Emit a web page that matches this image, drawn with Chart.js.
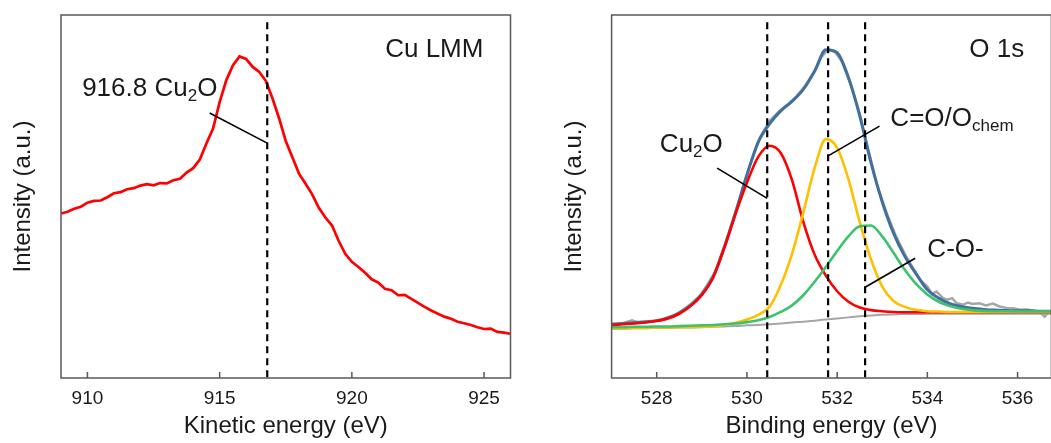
<!DOCTYPE html>
<html>
<head>
<meta charset="utf-8">
<script src="https://cdn.jsdelivr.net/npm/chart.js@4.4.1/dist/chart.umd.min.js"></script>
<style>
  html, body { margin: 0; padding: 0; background: #fff; overflow: hidden; }
  #lmm { position: absolute; left: 0; top: 0; }
  #o1s { position: absolute; left: 545px; top: 0; }
</style>
</head>
<body>
<canvas id="lmm" width="530" height="443"></canvas>
<canvas id="o1s" width="508" height="443"></canvas>
<script>
// Cu LMM Auger spectrum (kinetic energy, eV)
const lmmEnergy = [
  909.00, 909.25, 909.50, 909.75, 910.00, 910.25, 910.50, 910.75, 911.00, 911.25,
  911.50, 911.75, 912.00, 912.25, 912.50, 912.75, 913.00, 913.25, 913.50, 913.75,
  914.00, 914.25, 914.50, 914.75, 915.00, 915.25, 915.50, 915.75, 916.00, 916.25,
  916.50, 916.75, 917.00, 917.25, 917.50, 917.75, 918.00, 918.25, 918.50, 918.75,
  919.00, 919.25, 919.50, 919.75, 920.00, 920.25, 920.50, 920.75, 921.00, 921.25,
  921.50, 921.75, 922.00, 922.25, 922.50, 922.75, 923.00, 923.25, 923.50, 923.75,
  924.00, 924.25, 924.50, 924.75, 925.00, 925.25, 925.50, 925.75, 926.00
];
const lmmCounts = [
  45.3, 45.8, 46.6, 47.2, 48.3, 48.8, 48.9, 49.8, 50.9, 51.2,
  52.0, 52.3, 53.0, 53.4, 53.1, 53.7, 53.6, 54.5, 54.9, 56.6,
  57.8, 60.2, 64.6, 68.7, 76.0, 82.0, 86.1, 88.6, 87.9, 85.7,
  84.3, 81.8, 77.0, 71.5, 65.3, 60.8, 56.3, 53.5, 50.6, 46.9,
  44.2, 42.0, 37.8, 34.2, 32.0, 30.6, 29.0, 27.2, 26.3, 24.6,
  24.2, 22.8, 22.9, 21.8, 20.7, 19.6, 18.6, 17.7, 16.9, 16.3,
  15.5, 15.1, 14.6, 14.0, 13.5, 13.6, 12.7, 12.5, 12.2
];
const lmmTicks = [910, 915, 920, 925];
const lmmPeak = 916.8;

// O 1s fit (binding energy, eV)
const o1sEnergy = [
  527.00, 527.25, 527.50, 527.75, 528.00, 528.25, 528.50, 528.75, 529.00, 529.25,
  529.50, 529.75, 530.00, 530.25, 530.50, 530.75, 531.00, 531.25, 531.50, 531.75,
  532.00, 532.25, 532.50, 532.75, 533.00, 533.25, 533.50, 533.75, 534.00, 534.25,
  534.50, 534.75, 535.00, 535.25, 535.50, 535.75, 536.00, 536.25, 536.50, 536.75
];
const o1sBackground = [
  13.6, 13.6, 13.7, 13.7, 13.8, 13.8, 13.9, 13.9, 14.0, 14.1,
  14.2, 14.3, 14.5, 14.6, 14.8, 15.0, 15.3, 15.5, 15.8, 16.1,
  16.4, 16.7, 17.0, 17.2, 17.4, 17.5, 17.6, 17.6, 17.7, 17.7,
  17.7, 17.7, 17.7, 17.7, 17.7, 17.7, 17.7, 17.7, 17.7, 17.7
];
const o1sCu2O = [
  14.6, 14.8, 15.0, 15.3, 15.7, 16.4, 17.7, 19.8, 22.9, 27.7,
  35.9, 45.3, 53.8, 60.9, 64.0, 62.0, 54.5, 43.0, 34.0, 28.2,
  23.9, 21.0, 19.4, 18.7, 18.4, 18.2, 18.1, 18.1, 18.1, 18.1,
  18.1, 18.1, 18.1, 18.1, 18.1, 18.1, 18.1, 18.1, 18.1, 18.1
];
const o1sCarbonyl = [
  13.7, 13.7, 13.8, 13.8, 13.9, 13.9, 14.0, 14.0, 14.1, 14.3,
  14.6, 15.2, 16.1, 17.4, 19.6, 25.6, 34.2, 45.6, 57.8, 65.8,
  63.4, 54.8, 43.0, 32.7, 25.2, 21.2, 19.6, 18.8, 18.4, 18.3,
  18.2, 18.2, 18.2, 18.2, 18.2, 18.2, 18.2, 18.2, 18.2, 18.2
];
const o1sEther = [
  14.0, 14.0, 14.1, 14.1, 14.2, 14.2, 14.3, 14.4, 14.5, 14.6,
  14.8, 15.0, 15.4, 15.9, 16.8, 18.2, 20.0, 22.8, 26.5, 30.6,
  35.0, 39.0, 41.8, 42.0, 39.0, 34.5, 29.8, 25.9, 23.0, 21.0,
  19.8, 19.1, 18.7, 18.5, 18.4, 18.4, 18.3, 18.3, 18.3, 18.3
];
const o1sEnvelope = [
  14.8, 15.0, 15.2, 15.5, 15.8, 16.6, 17.9, 20.0, 23.0, 27.8,
  36.0, 45.6, 56.0, 65.0, 70.0, 73.6, 76.2, 79.5, 84.5, 90.4,
  89.6, 82.8, 72.3, 59.3, 48.5, 39.9, 33.5, 28.7, 24.3, 22.0,
  20.5, 19.7, 19.2, 18.9, 18.7, 18.6, 18.5, 18.5, 18.4, 18.4
];
const o1sRawEnergy = [
  527.00, 527.25, 527.45, 527.60, 527.85, 528.10, 528.35, 528.55, 528.75, 528.95,
  529.10, 529.30, 529.50, 529.70, 529.90, 530.10, 530.30, 530.50, 530.70, 530.90,
  531.10, 531.30, 531.50, 531.65, 531.80, 531.95, 532.10, 532.30, 532.50, 532.70,
  532.90, 533.10, 533.30, 533.50, 533.70, 533.85, 534.00, 534.10, 534.20, 534.35,
  534.45, 534.55, 534.65, 534.80, 534.90, 535.00, 535.15, 535.30, 535.45, 535.60,
  535.75, 535.90, 536.05, 536.20, 536.35, 536.50, 536.60, 536.70, 536.75
];
const o1sRaw = [
  14.9, 15.1, 15.9, 15.3, 15.6, 16.0, 16.9, 18.5, 20.3, 22.6,
  25.3, 29.3, 36.4, 44.0, 51.8, 59.8, 66.5, 70.8, 73.3, 75.3,
  77.6, 80.6, 84.6, 88.4, 90.5, 89.9, 87.3, 81.0, 72.8, 62.5,
  52.6, 45.4, 39.2, 34.2, 29.9, 26.9, 25.2, 23.2, 23.8, 22.0,
  21.6, 22.0, 20.6, 20.2, 20.8, 20.4, 20.6, 20.0, 20.5, 19.7,
  19.3, 19.2, 18.8, 18.9, 18.6, 18.1, 16.9, 18.3, 18.3
];
const o1sTicks = [528, 530, 532, 534, 536];
const o1sPeaks = [530.45, 531.8, 532.62];

const FONT = '"Liberation Sans", Arial, sans-serif';
const AXIS = '#595959';
const INK = '#1a1a1a';

const pts = (xs, ys) => xs.map((x, i) => ({ x, y: ys[i] }));

// lower `order` is painted later, i.e. on top
function curve(data, color, width, smooth, order) {
  return {
    data, order, borderColor: color, borderWidth: width, pointRadius: 0, fill: false,
    tension: 0, cubicInterpolationMode: smooth ? 'monotone' : 'default'
  };
}

function dashed(x) {
  return {
    data: [{ x, y: 98 }, { x, y: 0 }], order: 1,
    borderColor: '#000', borderWidth: 2.2, borderDash: [7, 5], pointRadius: 0
  };
}

function leader(x0, y0, x1, y1) {
  return {
    data: [{ x: x0, y: y0 }, { x: x1, y: y1 }], order: 0,
    borderColor: '#000', borderWidth: 1.6, pointRadius: 0
  };
}

// frame, inward ticks and the text callouts
function boxAndNotes(notes) {
  return {
    id: 'boxAndNotes',
    afterDraw(chart) {
      const { ctx, chartArea: a, scales: { x, y } } = chart;
      ctx.save();
      ctx.strokeStyle = AXIS;
      ctx.lineWidth = 1.5;
      ctx.strokeRect(a.left, a.top, a.right - a.left, a.bottom - a.top);
      ctx.beginPath();
      x.ticks.forEach(t => {
        const px = x.getPixelForValue(t.value);
        ctx.moveTo(px, a.bottom);
        ctx.lineTo(px, a.bottom - 6);
      });
      ctx.stroke();

      ctx.fillStyle = INK;
      ctx.textBaseline = 'alphabetic';
      notes.forEach(n => {
        let px = x.getPixelForValue(n.x);
        const py = y.getPixelForValue(n.y);
        n.parts.forEach(([text, sub]) => {
          ctx.font = (sub ? 17 : 26) + 'px ' + FONT;
          ctx.fillText(text, px, py + (sub ? 5 : 0));
          px += ctx.measureText(text).width;
        });
      });
      ctx.restore();
    }
  };
}

function scales(min, max, ticks, xTitle, yWidth, yTitlePad) {
  return {
    x: {
      type: 'linear', min, max,
      afterBuildTicks: s => { s.ticks = ticks.map(v => ({ value: v })); },
      afterFit: s => { s.height = 65; },
      grid: { display: false, drawTicks: false },
      border: { display: false },
      ticks: { color: INK, autoSkip: false, maxRotation: 0, padding: 9, font: { family: FONT, size: 19 } },
      title: { display: true, text: xTitle, color: INK, font: { family: FONT, size: 24 }, padding: { top: 0, bottom: 2 } }
    },
    y: {
      type: 'linear', min: 0, max: 100,
      afterFit: s => { s.width = yWidth; },
      grid: { display: false, drawTicks: false },
      border: { display: false },
      ticks: { display: false },
      title: { display: true, text: 'Intensity (a.u.)', color: INK, font: { family: FONT, size: 24 }, padding: { top: yTitlePad, bottom: 0 } }
    }
  };
}

const common = {
  responsive: false,
  animation: false,
  devicePixelRatio: 1,
  plugins: { legend: { display: false }, tooltip: { enabled: false } }
};

new Chart(document.getElementById('lmm'), {
  type: 'line',
  data: {
    datasets: [
      curve(pts(lmmEnergy, lmmCounts), '#ff0000', 2.7, false, 5),
      dashed(lmmPeak),
      leader(914.62, 73.0, lmmPeak, 64.7)
    ]
  },
  options: {
    ...common,
    layout: { padding: { left: 0, right: 19.5, top: 15, bottom: 0 } },
    scales: scales(909, 926, lmmTicks, 'Kinetic energy (eV)', 61, 8.6)
  },
  plugins: [boxAndNotes([
    { x: 909.8, y: 77.7, parts: [[lmmPeak.toFixed(1) + ' Cu'], ['2', true], ['O']] },
    { x: 921.26, y: 88.4, parts: [['Cu LMM']] }
  ])]
});

new Chart(document.getElementById('o1s'), {
  type: 'line',
  data: {
    datasets: [
      curve(pts(o1sRawEnergy, o1sRaw), '#a6a6a6', 2.5, false, 9),
      curve(pts(o1sEnergy, o1sBackground), '#a6a6a6', 2, true, 8),
      curve(pts(o1sEnergy, o1sEnvelope), '#41709d', 3, true, 7),
      curve(pts(o1sEnergy, o1sCu2O), '#ff0000', 2.6, true, 6),
      curve(pts(o1sEnergy, o1sCarbonyl), '#ffc000', 2.6, true, 5),
      curve(pts(o1sEnergy, o1sEther), '#3cc26c', 2.6, true, 4),
      ...o1sPeaks.map(dashed),
      leader(529.34, 57.8, o1sPeaks[0], 49.5),
      leader(532.94, 69.4, o1sPeaks[1], 61.2),
      leader(533.73, 33.0, o1sPeaks[2], 25.0)
    ]
  },
  options: {
    ...common,
    layout: { padding: { left: 0, right: 1.6, top: 15, bottom: 0 } },
    scales: scales(527, 536.75, o1sTicks, 'Binding energy (eV)', 66.6, 14.6)
  },
  plugins: [boxAndNotes([
    { x: 534.93, y: 88.3, parts: [['O 1s']] },
    { x: 528.07, y: 62.3, parts: [['Cu'], ['2', true], ['O']] },
    { x: 533.18, y: 69.4, parts: [['C=O/O'], ['chem', true]] },
    { x: 534.0, y: 33.4, parts: [['C-O-']] }
  ])]
});
</script>
</body>
</html>
